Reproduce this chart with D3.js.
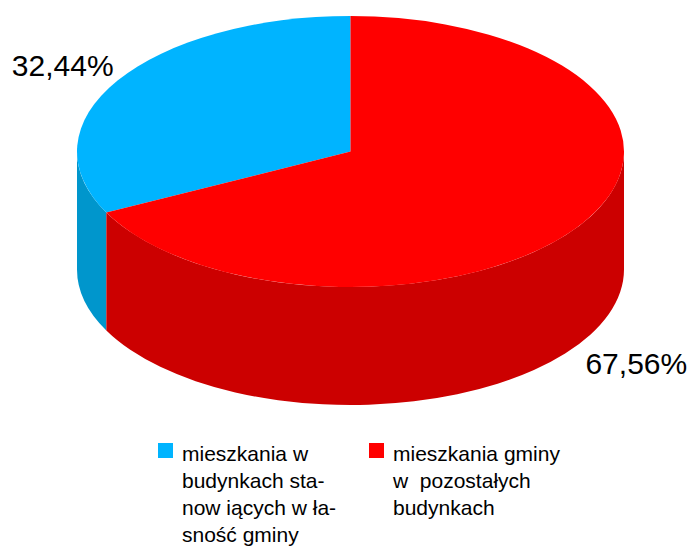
<!DOCTYPE html>
<html>
<head>
<meta charset="utf-8">
<script src="https://cdnjs.cloudflare.com/ajax/libs/d3/7.8.5/d3.min.js"></script>
<style>
  body { margin: 0; background: #fff; }
  svg { display: block; }
</style>
</head>
<body>
<div class="pie3d"></div>
<script>
// data
const categories = [
  ["mieszkania w", "budynkach sta-", "now iących w ła-", "snoś\u0107 gminy"],
  ["mieszkania gminy", "w  pozostałych", "budynkach"]
];
const values = [32.44, 67.56];
const labels = ["32,44%", "67,56%"];
const topColors = ["#00b4ff", "#ff0000"];
const sideColors = ["#0096cc", "#cc0000"];

const width = 694, height = 547;
const cx = 350.5, cy = 151.5, rx = 273.5, ry = 135.5, depth = 118;

const svg = d3.select(".pie3d").append("svg")
  .attr("width", width)
  .attr("height", height);

// red slice starts at 12 o'clock going clockwise, blue closes the circle
const pie = d3.pie()
  .sort((a, b) => b.i - a.i)
  .value(d => d.v);
const arcs = pie(values.map((v, i) => ({ v: v, i: i })));

function pt(a, dy) {
  return [cx + rx * Math.sin(a), cy - ry * Math.cos(a) + (dy || 0)];
}

function topPath(d) {
  const p0 = pt(d.startAngle), p1 = pt(d.endAngle);
  const large = d.endAngle - d.startAngle > Math.PI ? 1 : 0;
  return "M" + cx + "," + cy + "L" + p0 + "A" + rx + "," + ry + " 0 " + large + " 1 " + p1 + "Z";
}

function sidePath(d) {
  const s = Math.max(d.startAngle, Math.PI / 2);
  const e = Math.min(d.endAngle, Math.PI * 1.5);
  if (e <= s) return null;
  const a = pt(s), b = pt(e), c = pt(e, depth), f = pt(s, depth);
  return "M" + a + "A" + rx + "," + ry + " 0 0 1 " + b +
    "L" + c + "A" + rx + "," + ry + " 0 0 0 " + f + "Z";
}

// outer walls first
svg.selectAll("path.side")
  .data(arcs.filter(d => sidePath(d)))
  .enter()
  .append("path")
    .attr("class", "side")
    .attr("d", sidePath)
    .style("fill", d => sideColors[d.data.i]);

// top faces
svg.selectAll("path.top")
  .data(arcs)
  .enter()
  .append("path")
    .attr("class", "top")
    .attr("d", topPath)
    .style("fill", d => topColors[d.data.i]);

// percent labels, placed off the slice middle
svg.selectAll("text.pct")
  .data(arcs)
  .enter()
  .append("text")
    .attr("class", "pct")
    .attr("x", d => {
      const m = (d.startAngle + d.endAngle) / 2;
      return pt(m)[0] + (Math.cos(m) > 0 ? -4 : 2);
    })
    .attr("y", d => {
      const m = (d.startAngle + d.endAngle) / 2;
      const p = pt(m);
      return Math.cos(m) > 0 ? p[1] - 4 : p[1] + depth + 33;
    })
    .attr("text-anchor", d => d.data.i === 0 ? "end" : "start")
    .style("font-family", "Liberation Sans, Arial, sans-serif")
    .style("font-size", "30px")
    .style("fill", "#000")
    .text(d => labels[d.data.i]);

// legend
const legendX = [158, 369];
const legend = svg.selectAll("g.legend")
  .data(categories)
  .enter()
  .append("g")
    .attr("class", "legend")
    .attr("transform", (d, i) => "translate(" + legendX[i] + ",443)");

legend.append("rect")
  .attr("width", 15)
  .attr("height", 15)
  .style("fill", (d, i) => topColors[i]);

legend.append("text")
  .style("font-family", "Liberation Sans, Arial, sans-serif")
  .style("font-size", "21px")
  .style("fill", "#000")
  .selectAll("tspan")
  .data(d => d)
  .enter()
  .append("tspan")
    .attr("x", 24)
    .attr("y", (d, j) => 18 + j * 27)
    .style("white-space", "pre")
    .text(d => d);
</script>
</body>
</html>
